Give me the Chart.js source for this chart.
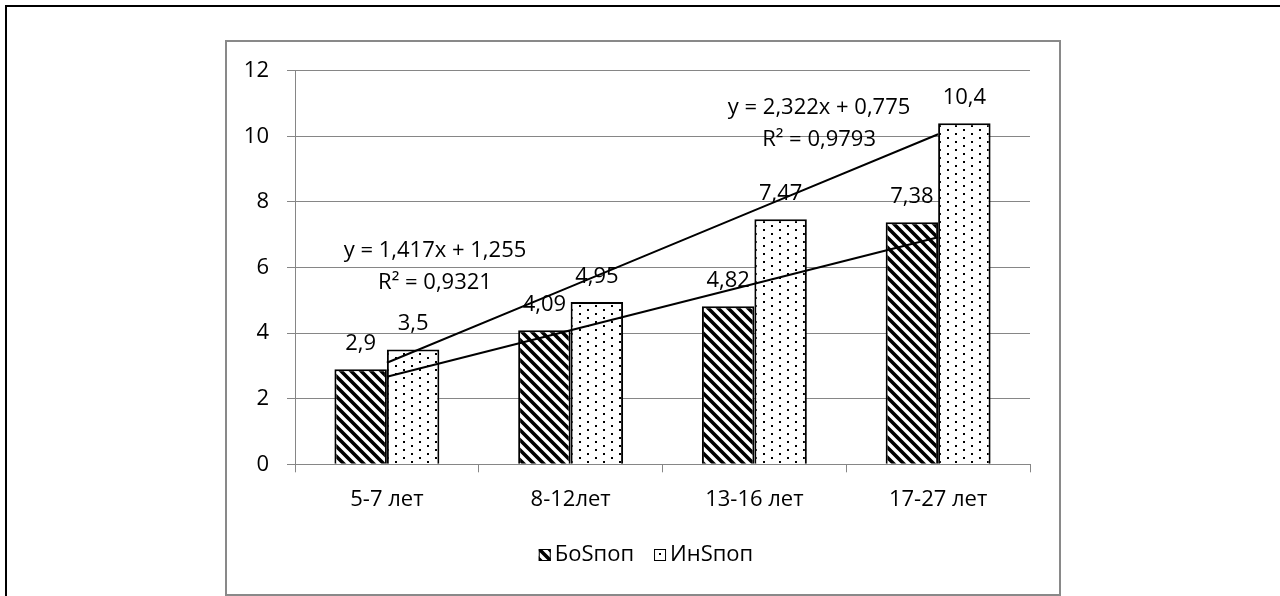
<!DOCTYPE html>
<html>
<head>
<meta charset="utf-8">
<script src="https://cdn.jsdelivr.net/npm/chart.js@4.4.1/dist/chart.umd.min.js"></script>
<style>
  html, body { margin: 0; padding: 0; background: #fff; overflow: hidden; }
  #outer { position: absolute; left: 5px; top: 5px; width: 1300px; height: 620px; border: 2px solid #000; box-sizing: border-box; }
  #frame { position: absolute; left: 225px; top: 40px; width: 836px; height: 556px; border: 2px solid #898989; box-sizing: border-box; }
  #wrap { position: absolute; left: 0; top: 0; width: 1280px; height: 596px; }
</style>
</head>
<body>
<div id="outer"></div>
<div id="frame"></div>
<div id="wrap"><canvas id="chart" width="1280" height="596"></canvas></div>
<script>
const categories = ['5-7 лет', '8-12лет', '13-16 лет', '17-27 лет'];
const seriesNames = ['БоSпоп', 'ИнSпоп'];
const boValues = [2.9, 4.09, 4.82, 7.38];
const inValues = [3.5, 4.95, 7.47, 10.4];
// linear trend equations shown on the chart
const trendSlopes = [1.417, 2.322];
const trendIntercepts = [1.255, 0.775];
const trendR2 = [0.9321, 0.9793];

const FONT = '"Open Sans", sans-serif';
const GRID = '#868686';
Chart.defaults.font.family = FONT;
Chart.defaults.color = '#000';

const fmt = (v) => String(v).replace('.', ',');

function hatchPattern() {
    const c = document.createElement('canvas');
    c.width = 10; c.height = 10;
    const g = c.getContext('2d');
    g.fillStyle = '#fff';
    g.fillRect(0, 0, 10, 10);
    g.strokeStyle = '#000';
    g.lineWidth = 3.6;
    g.beginPath();
    g.moveTo(-5, -5); g.lineTo(15, 15);
    g.moveTo(-5, 5); g.lineTo(5, 15);
    g.moveTo(5, -5); g.lineTo(15, 5);
    g.stroke();
    return g.createPattern(c, 'repeat');
}

function dotPattern() {
    const c = document.createElement('canvas');
    c.width = 16; c.height = 8;
    const g = c.getContext('2d');
    g.fillStyle = '#fff';
    g.fillRect(0, 0, 16, 8);
    g.fillStyle = '#000';
    g.fillRect(3, 1, 2, 2);
    g.fillRect(11, 5, 2, 2);
    return g.createPattern(c, 'repeat');
}

const boFill = hatchPattern();
const inFill = dotPattern();

const trendData = (k) => categories.map((_, i) => trendSlopes[k] * (i + 1) + trendIntercepts[k]);

// value labels above bars, trend equations, legend
const annotations = {
    id: 'annotations',
    afterDatasetsDraw(chart) {
        const ctx = chart.ctx;
        ctx.save();
        ctx.font = '22px ' + FONT;
        ctx.fillStyle = '#000';
        ctx.textAlign = 'center';
        ctx.textBaseline = 'middle';

        [0, 1].forEach(di => {
            const ds = chart.data.datasets[di];
            chart.getDatasetMeta(di).data.forEach((bar, i) => {
                ctx.fillText(fmt(ds.data[i]), bar.x, bar.y - 25.5);
            });
        });

        const xs = chart.scales.x, ys = chart.scales.y;
        const eqPos = [[0.262, 6.51], [2.352, 10.86]];
        eqPos.forEach(([xi, yv], k) => {
            const x = xs.getPixelForValue(xi);
            const y = ys.getPixelForValue(yv);
            ctx.fillText('y = ' + fmt(trendSlopes[k]) + 'x + ' + fmt(trendIntercepts[k]), x, y);
            ctx.fillText('R² = ' + fmt(trendR2[k]), x, y + 32);
        });

        // legend
        const items = [[seriesNames[0], boFill], [seriesNames[1], inFill]];
        const box = 12, gapText = 4, gapItem = 20;
        const widths = items.map(([t]) => box + gapText + ctx.measureText(t).width);
        const total = widths.reduce((a, b) => a + b, 0) + gapItem;
        let lx = 646 - total / 2;
        const ly = 555;
        ctx.textAlign = 'left';
        items.forEach(([t, fill], i) => {
            ctx.fillStyle = fill;
            ctx.fillRect(lx, ly - box / 2, box, box);
            ctx.strokeStyle = '#000';
            ctx.lineWidth = 1;
            ctx.strokeRect(lx + 0.5, ly - box / 2 + 0.5, box - 1, box - 1);
            ctx.fillStyle = '#000';
            ctx.fillText(t, lx + box + gapText, ly);
            lx += widths[i] + gapItem;
        });
        ctx.restore();
    }
};

new Chart(document.getElementById('chart'), {
    type: 'bar',
    data: {
        labels: categories,
        datasets: [
            {
                label: seriesNames[0],
                data: boValues,
                backgroundColor: boFill,
                borderColor: '#000',
                borderWidth: 2,
                categoryPercentage: 0.571,
                barPercentage: 1,
                order: 2
            },
            {
                label: seriesNames[1],
                data: inValues,
                backgroundColor: inFill,
                borderColor: '#000',
                borderWidth: 2,
                categoryPercentage: 0.571,
                barPercentage: 1,
                order: 2
            },
            {
                type: 'line',
                label: 'trend ' + seriesNames[0],
                data: trendData(0),
                borderColor: '#000',
                borderWidth: 2,
                pointRadius: 0,
                fill: false,
                order: 1
            },
            {
                type: 'line',
                label: 'trend ' + seriesNames[1],
                data: trendData(1),
                borderColor: '#000',
                borderWidth: 2,
                pointRadius: 0,
                fill: false,
                order: 1
            }
        ]
    },
    options: {
        responsive: false,
        animation: false,
        devicePixelRatio: 1,
        layout: { padding: { left: 228, right: 250, top: 70.7, bottom: 0 } },
        scales: {
            x: {
                grid: { display: true, drawOnChartArea: false, drawTicks: true, tickLength: 8, color: GRID, offset: true },
                border: { display: true, color: GRID, width: 1 },
                ticks: { font: { size: 22 }, padding: 14, color: '#000' },
                afterFit: (s) => { s.height = 131.7; }
            },
            y: {
                min: 0,
                max: 12,
                ticks: { stepSize: 2, font: { size: 22 }, padding: 18, color: '#000' },
                grid: { color: GRID, tickLength: 8, drawTicks: true },
                border: { display: true, color: GRID, width: 1 },
                afterFit: (s) => { s.width = 67; }
            }
        },
        plugins: {
            legend: { display: false },
            tooltip: { enabled: false }
        }
    },
    plugins: [annotations]
});
</script>
</body>
</html>
